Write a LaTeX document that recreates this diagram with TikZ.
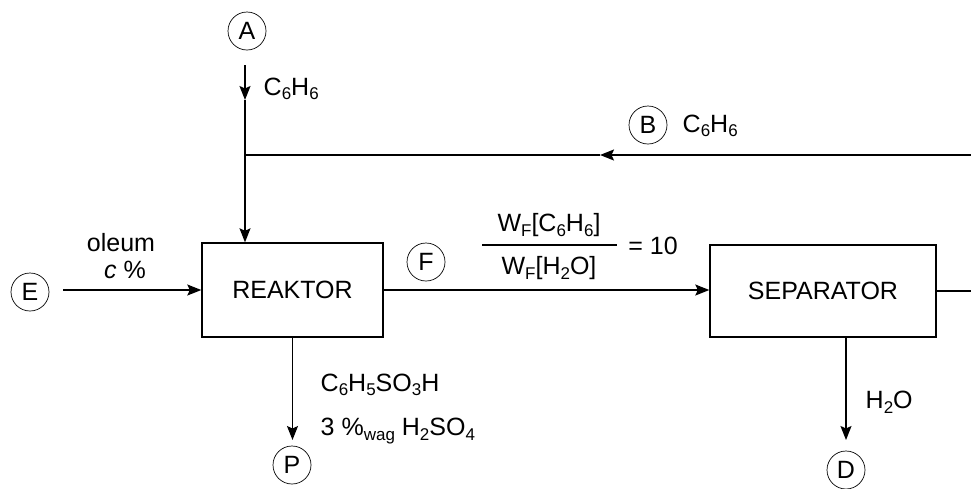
\documentclass[tikz,border=0pt]{standalone}
\usepackage{fontspec}
\setmainfont{Liberation Sans}
\usetikzlibrary{arrows.meta}
\newcommand\sbs[1]{\raisebox{-0.35ex}{\fontsize{17}{17}\selectfont #1}}
\begin{document}
\begin{tikzpicture}[x=1pt,y=-1pt,
  font=\fontsize{25}{29}\selectfont,
  line width=1.4pt,
  circ/.style={circle, draw, line width=0.7pt, minimum size=38pt, inner sep=0pt},
  box/.style={draw, line width=1.4pt, inner sep=0pt},
  arr/.style={-{Stealth[length=14pt,width=11pt,inset=2.5pt]}},
  lbl/.style={inner sep=0pt, anchor=west}]
\useasboundingbox (0,0) rectangle (971,488);

% boxes
\node[box, minimum width=181pt, minimum height=94pt] (R) at (292.5,290) {REAKTOR};
\node[box, minimum width=226pt, minimum height=92pt] (S) at (823,291) {SEPARATOR};

% stream circles
\node[circ] (A) at (247,31) {A};
\node[circ] (B) at (648,125) {B};
\node[circ] (E) at (30,292) {E};
\node[circ] (F) at (426,262) {F};
\node[circ] (P) at (292,465) {P};
\node[circ] (D) at (846,470) {D};

% coordinates
\coordinate (a0) at (245,65);
\coordinate (a1) at (245,100);
\coordinate (J) at (245,155);
\coordinate (b0) at (971,155);
\coordinate (b1) at (600,155);
\coordinate (e0) at (63,290);
\coordinate (s1) at (971,291);
\coordinate (p1) at (292,440);
\coordinate (d1) at (846,440);
\coordinate (fl) at (482,245);
\coordinate (fr) at (617,245);

% connectors
\draw[arr] (a0) -- (a1);
\draw[arr] (a1) -- (a1 |- R.north);
\draw[arr] (b0) -- (b1);
\draw (b1) -- (J);
\draw[arr] (e0) -- (R.west);
\draw[arr] (R.east) -- (S.west |- R.east);
\draw (S.east) -- (s1);
\draw[arr] (R.south) -- (R.south |- p1);
\draw[arr] (S.south -| d1) -- (d1);

% labels
\node[lbl] (lA) at (263,89) {C\sbs{6}H\sbs{6}};
\node[lbl] (lB) at (682,126) {C\sbs{6}H\sbs{6}};
\node (lE1) at (121,243) {oleum};
\node (lE2) at (125,270) {\textit{c} \%};
\node (num) at (549,225) {W\sbs{F}[C\sbs{6}H\sbs{6}]};
\node (den) at (549,268) {W\sbs{F}[H\sbs{2}O]};
\draw[line width=1.2pt] (fl) -- (fr);
\node (eq) at (653,246) {= 10};
\node[lbl] (lP1) at (320,385) {C\sbs{6}H\sbs{5}SO\sbs{3}H};
\node[lbl] (lP2) at (320,431) {3 \%\sbs{wag} H\sbs{2}SO\sbs{4}};
\node[lbl] (lD) at (865,402) {H\sbs{2}O};
\end{tikzpicture}
\end{document}
